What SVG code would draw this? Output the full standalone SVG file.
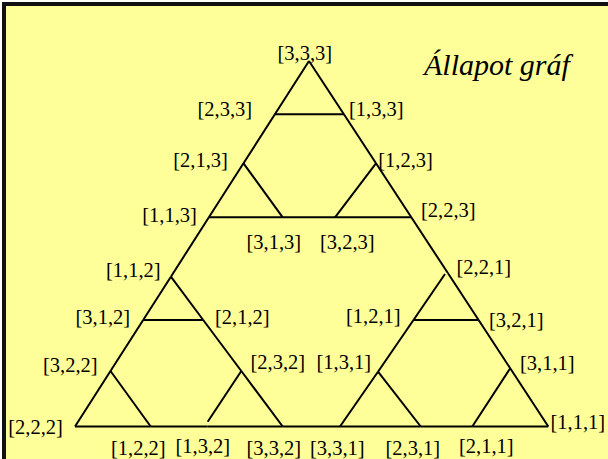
<svg xmlns="http://www.w3.org/2000/svg" width="608" height="459" viewBox="0 0 608 459">
<style>
.bg{fill:#FFFF99;stroke:#111;stroke-width:4}
.e{stroke:#000;stroke-width:2;fill:none}
.n text{font-family:"Liberation Serif","Times New Roman",serif;font-size:20.5px;fill:#000}
.title{font-family:"Liberation Serif","Times New Roman",serif;font-size:30px;font-style:italic;fill:#000}
</style>
<rect class="bg" x="4" y="4" width="640" height="490"/>
<text class="title" x="424" y="75">Állapot gráf</text>
<g id="connectors">
<line class="e" x1="309" y1="61" x2="274.9" y2="114.3"/>
<line class="e" x1="274.9" y1="114.3" x2="243.5" y2="163.3"/>
<line class="e" x1="243.5" y1="163.3" x2="208.9" y2="217.3"/>
<line class="e" x1="208.9" y1="217.3" x2="170.9" y2="276.7"/>
<line class="e" x1="170.9" y1="276.7" x2="143.2" y2="320"/>
<line class="e" x1="143.2" y1="320" x2="110.5" y2="371"/>
<line class="e" x1="110.5" y1="371" x2="75" y2="426.5"/>
<line class="e" x1="309" y1="61" x2="343.9" y2="114.3"/>
<line class="e" x1="343.9" y1="114.3" x2="376" y2="163.3"/>
<line class="e" x1="376" y1="163.3" x2="411.3" y2="217.3"/>
<line class="e" x1="411.3" y1="217.3" x2="448" y2="273.3"/>
<line class="e" x1="448" y1="273.3" x2="478.6" y2="320"/>
<line class="e" x1="478.6" y1="320" x2="510.2" y2="368.3"/>
<line class="e" x1="510.2" y1="368.3" x2="548.3" y2="426.5"/>
<line class="e" x1="75" y1="426.5" x2="150.7" y2="426.5"/>
<line class="e" x1="150.7" y1="426.5" x2="207.7" y2="426.5"/>
<line class="e" x1="207.7" y1="426.5" x2="282.7" y2="426.5"/>
<line class="e" x1="282.7" y1="426.5" x2="340" y2="426.5"/>
<line class="e" x1="340" y1="426.5" x2="420.7" y2="426.5"/>
<line class="e" x1="420.7" y1="426.5" x2="472.3" y2="426.5"/>
<line class="e" x1="472.3" y1="426.5" x2="548.3" y2="426.5"/>
<line class="e" x1="274.9" y1="114.3" x2="343.9" y2="114.3"/>
<line class="e" x1="243.5" y1="163.3" x2="282.7" y2="217.3"/>
<line class="e" x1="208.9" y1="217.3" x2="282.7" y2="217.3"/>
<line class="e" x1="282.7" y1="217.3" x2="335" y2="217.3"/>
<line class="e" x1="335" y1="217.3" x2="411.3" y2="217.3"/>
<line class="e" x1="376" y1="163.3" x2="335" y2="217.3"/>
<line class="e" x1="170.9" y1="276.7" x2="203.2" y2="320"/>
<line class="e" x1="203.2" y1="320" x2="241.3" y2="371"/>
<line class="e" x1="241.3" y1="371" x2="282.7" y2="426.5"/>
<line class="e" x1="143.2" y1="320" x2="203.2" y2="320"/>
<line class="e" x1="110.5" y1="371" x2="150.7" y2="426.5"/>
<line class="e" x1="241.3" y1="371" x2="207.7" y2="421.7"/>
<line class="e" x1="445" y1="274" x2="413.5" y2="320"/>
<line class="e" x1="413.5" y1="320" x2="378" y2="371.7"/>
<line class="e" x1="378" y1="371.7" x2="340" y2="426.5"/>
<line class="e" x1="413.5" y1="320" x2="478.6" y2="320"/>
<line class="e" x1="378" y1="371.7" x2="420.7" y2="426.5"/>
<line class="e" x1="510.2" y1="368.3" x2="472.3" y2="426.5"/>
</g>
<g id="n333" class="n"><text x="277.5" y="59.5">[3,3,3]</text></g>
<g id="n233" class="n"><text x="197.5" y="115.5">[2,3,3]</text></g>
<g id="n133" class="n"><text x="349" y="115.5">[1,3,3]</text></g>
<g id="n213" class="n"><text x="173.2" y="167">[2,1,3]</text></g>
<g id="n123" class="n"><text x="378.2" y="166.5">[1,2,3]</text></g>
<g id="n113" class="n"><text x="142.2" y="221.5">[1,1,3]</text></g>
<g id="n223" class="n"><text x="421" y="216.5">[2,2,3]</text></g>
<g id="n313" class="n"><text x="246.5" y="248.5">[3,1,3]</text></g>
<g id="n323" class="n"><text x="320" y="248.5">[3,2,3]</text></g>
<g id="n112" class="n"><text x="106" y="277">[1,1,2]</text></g>
<g id="n221" class="n"><text x="456.5" y="273.5">[2,2,1]</text></g>
<g id="n312" class="n"><text x="75.5" y="323.5">[3,1,2]</text></g>
<g id="n212" class="n"><text x="215" y="323.5">[2,1,2]</text></g>
<g id="n121" class="n"><text x="346" y="322.5">[1,2,1]</text></g>
<g id="n321" class="n"><text x="489" y="327">[3,2,1]</text></g>
<g id="n322" class="n"><text x="43" y="372">[3,2,2]</text></g>
<g id="n232" class="n"><text x="250.5" y="368.5">[2,3,2]</text></g>
<g id="n131" class="n"><text x="316.5" y="368.5">[1,3,1]</text></g>
<g id="n311" class="n"><text x="520" y="370">[3,1,1]</text></g>
<g id="n222" class="n"><text x="8.2" y="434">[2,2,2]</text></g>
<g id="n111" class="n"><text x="550.5" y="428.5">[1,1,1]</text></g>
<g id="n122" class="n"><text x="111" y="454.5">[1,2,2]</text></g>
<g id="n132" class="n"><text x="175.5" y="452.5">[1,3,2]</text></g>
<g id="n332" class="n"><text x="246.5" y="454.5">[3,3,2]</text></g>
<g id="n331" class="n"><text x="310" y="455">[3,3,1]</text></g>
<g id="n231" class="n"><text x="385.5" y="454.5">[2,3,1]</text></g>
<g id="n211" class="n"><text x="459" y="453.3">[2,1,1]</text></g>
</svg>
